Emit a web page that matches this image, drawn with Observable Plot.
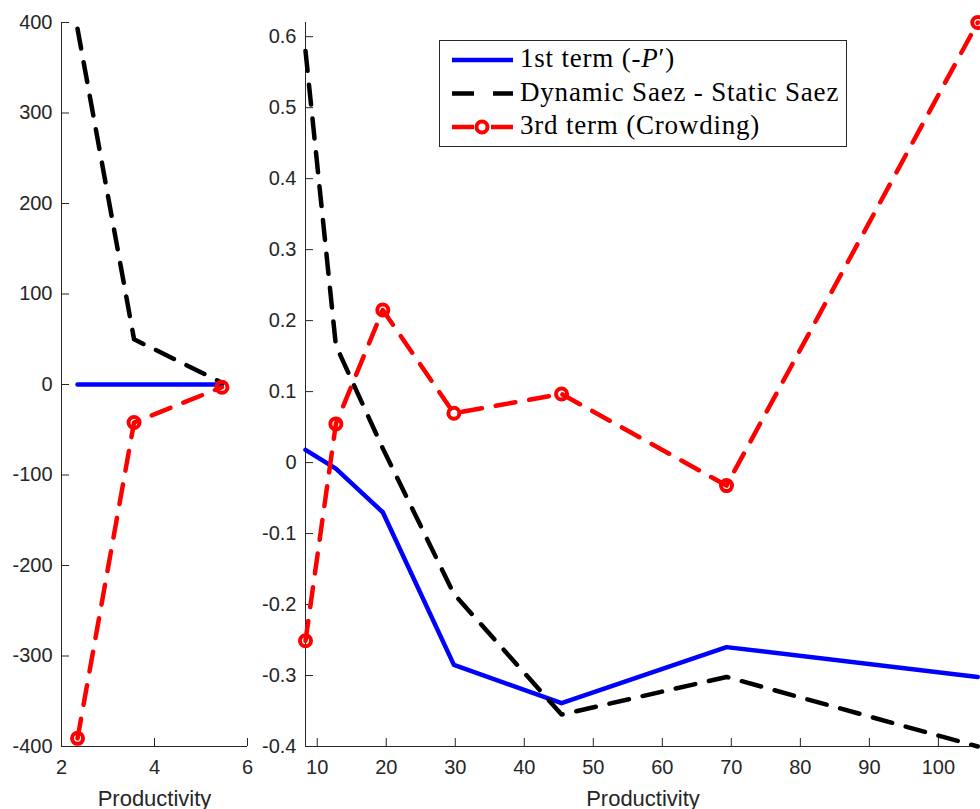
<!DOCTYPE html>
<html>
<head>
<meta charset="utf-8">
<script src="https://cdn.jsdelivr.net/npm/d3@7"></script>
<script src="https://cdn.jsdelivr.net/npm/@observablehq/plot@0.6"></script>
<style>
  html, body { margin: 0; padding: 0; background: #fff; overflow: hidden; }
  #wrap { position: relative; width: 980px; height: 809px; overflow: hidden; }
  #wrap > svg { position: absolute; top: 0; }
</style>
</head>
<body>
<div id="wrap"></div>
<script>
// ---- Data ----
const leftX = [2.345, 3.56, 5.45];
const leftFirstTerm = [0, 0, 0];
const leftDynMinusStatic = [393, 50, 2];
const leftCrowding = [-391, -42, -3];

const rightX = [8.3, 12.7, 19.5, 29.8, 45.4, 69.3, 105.7];
const rightFirstTerm = [0.018, -0.0085, -0.070, -0.285, -0.339, -0.260, -0.302];
const rightDynMinusStatic = [0.58, 0.165, 0.02, -0.185, -0.355, -0.302, -0.40];
const rightCrowding = [-0.251, 0.0545, 0.215, 0.0695, 0.0967, -0.0324, 0.62];

const leftXTicks = [2, 4, 6];
const leftYTicks = [-400, -300, -200, -100, 0, 100, 200, 300, 400];
const rightXTicks = [10, 20, 30, 40, 50, 60, 70, 80, 90, 100];
const rightYTicks = [-0.4, -0.3, -0.2, -0.1, 0, 0.1, 0.2, 0.3, 0.4, 0.5, 0.6];

const xLabel = "Productivity";
const legendLabels = ["1st term (-", "Dynamic Saez - Static Saez", "3rd term (Crowding)"];

const AX = "#262626";
const H = 809, MT = 22, MB = 63;
const LW = 4.5;

function panel({x, first, diff, crowd, xDomain, yDomain, xTicks, yTicks, width, marginLeft, marginRight}) {
  const rows = x.map((v, i) => ({x: v, first: first[i], diff: diff[i], crowd: crowd[i]}));
  const plotW = width - marginLeft - marginRight;
  const plotH = H - MT - MB;
  return Plot.plot({
    width, height: H, marginTop: MT, marginBottom: MB, marginLeft, marginRight,
    x: {domain: xDomain},
    y: {domain: yDomain},
    style: {fontFamily: "'Liberation Sans', Arial, sans-serif", fontSize: "20px", color: AX, overflow: "visible", background: "transparent"},
    marks: [
      Plot.ruleX([xDomain[0]], {stroke: AX, strokeWidth: 1}),
      Plot.ruleY([yDomain[0]], {stroke: AX, strokeWidth: 1}),
      Plot.tickY(yTicks, {y: d => d, stroke: AX, strokeWidth: 1, insetRight: plotW - 8}),
      Plot.tickX(xTicks, {x: d => d, stroke: AX, strokeWidth: 1, insetTop: plotH - 8}),
      Plot.axisY({ticks: yTicks, tickSize: 0, tickPadding: 9, tickFormat: d => String(d), label: null}),
      Plot.axisX({ticks: xTicks, tickSize: 0, tickPadding: 13, tickFormat: d => String(d), label: null}),
      Plot.text([xLabel], {text: d => d, frameAnchor: "bottom", dy: 52, fontSize: 22, lineAnchor: "middle", fill: AX}),
      Plot.line(rows, {x: "x", y: "first", stroke: "#0000ff", strokeWidth: LW}),
      Plot.line(rows, {x: "x", y: "diff", stroke: "#000000", strokeWidth: LW, strokeDasharray: "20,14"}),
      Plot.line(rows, {x: "x", y: "crowd", stroke: "#ff0000", strokeWidth: LW, strokeDasharray: "20,14"}),
      Plot.dot(rows, {x: "x", y: "crowd", r: 5.5, stroke: "#ff0000", strokeWidth: 4, fill: "none"})
    ]
  });
}

const wrap = document.getElementById("wrap");

const left = panel({
  x: leftX, first: leftFirstTerm, diff: leftDynMinusStatic, crowd: leftCrowding,
  xDomain: [2, 6], yDomain: [-400, 400], xTicks: leftXTicks, yTicks: leftYTicks,
  width: 260, marginLeft: 61, marginRight: 13
});
left.style.left = "0px";
wrap.appendChild(left);

const right = panel({
  x: rightX, first: rightFirstTerm, diff: rightDynMinusStatic, crowd: rightCrowding,
  xDomain: [8.3, 106.1], yDomain: [-0.4, 0.62], xTicks: rightXTicks, yTicks: rightYTicks,
  width: 730, marginLeft: 55, marginRight: 0
});
right.style.left = "250px";
wrap.appendChild(right);

// ---- Legend ----
const lg = d3.create("svg").attr("width", 980).attr("height", 809).style("left", "0px").style("pointer-events", "none");
lg.append("rect").attr("x", 439.5).attr("y", 40.5).attr("width", 407).attr("height", 106)
  .attr("fill", "#fff").attr("stroke", AX).attr("stroke-width", 1);
const rowsY = [60, 93.5, 127];
const sx1 = 452, sx2 = 513;
lg.append("line").attr("x1", sx1).attr("x2", sx2).attr("y1", rowsY[0]).attr("y2", rowsY[0])
  .attr("stroke", "#0000ff").attr("stroke-width", LW);
lg.append("line").attr("x1", sx1).attr("x2", sx2).attr("y1", rowsY[1]).attr("y2", rowsY[1])
  .attr("stroke", "#000").attr("stroke-width", LW).attr("stroke-dasharray", "22,19");
lg.append("line").attr("x1", sx1).attr("x2", sx2).attr("y1", rowsY[2]).attr("y2", rowsY[2])
  .attr("stroke", "#ff0000").attr("stroke-width", LW).attr("stroke-dasharray", "22,17");
lg.append("circle").attr("cx", 482).attr("cy", rowsY[2]).attr("r", 5.5)
  .attr("fill", "none").attr("stroke", "#ff0000").attr("stroke-width", 4);
const tf = "'Liberation Serif', 'Times New Roman', serif";
const t0 = lg.append("text").attr("x", 520).attr("y", 67).attr("font-family", tf).attr("font-size", 27).attr("letter-spacing", "0.8px").attr("fill", "#000");
t0.append("tspan").text(legendLabels[0]);
t0.append("tspan").attr("font-style", "italic").text("P");
t0.append("tspan").text("\u2032)");
lg.append("text").attr("x", 520).attr("y", 100.5).attr("font-family", tf).attr("font-size", 27).attr("letter-spacing", "0.8px").attr("fill", "#000").text(legendLabels[1]);
lg.append("text").attr("x", 520).attr("y", 134).attr("font-family", tf).attr("font-size", 27).attr("letter-spacing", "0.8px").attr("fill", "#000").text(legendLabels[2]);
wrap.appendChild(lg.node());
</script>
</body>
</html>
